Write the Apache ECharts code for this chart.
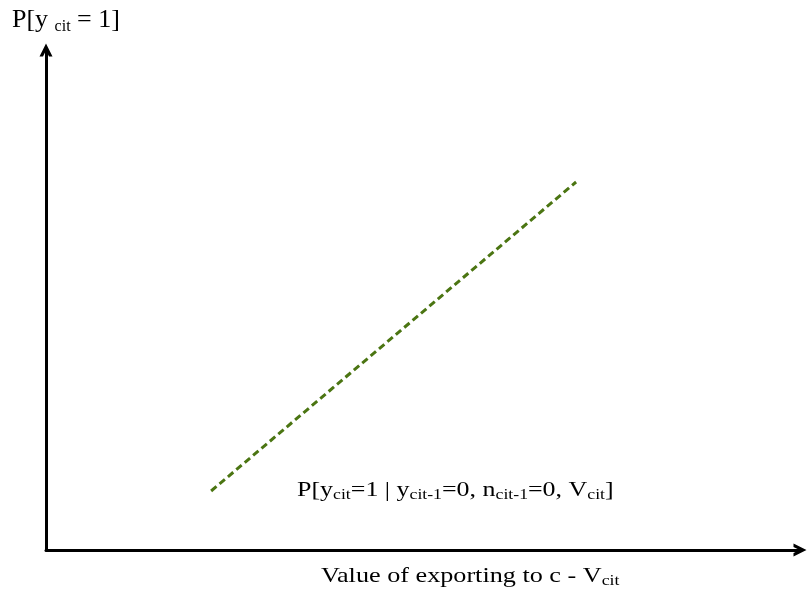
<!DOCTYPE html>
<html>
<head>
<meta charset="utf-8">
<script src="https://cdn.jsdelivr.net/npm/echarts@6/dist/echarts.min.js"></script>
<style>html,body{margin:0;padding:0;background:#fff}#c{width:807px;height:590px}</style>
</head>
<body>
<div id="c"></div>
<script>
// Data (abstract units on a 0–100 scale)
const lineX = [21.9, 70.3];
const lineY = [11.8, 73.6];
const yAxisTitle = ['P[y ', 'cit', ' = 1]'];
const xAxisTitle = ['Value of exporting to c - V', 'cit'];
const curveLabel = 'P[y{s|cit}=1 | y{s|cit-1}=0, n{s|cit-1}=0, V{s|cit}]';

const FONT = "'Liberation Serif','Times New Roman',serif";
const chevron = 'path://M0,10 L5,0 L10,10 L7.3,10 L5,5.3 L2.7,10 Z';

const chart = echarts.init(document.getElementById('c'), null, {renderer: 'canvas'});
chart.setOption({
  animation: false,
  backgroundColor: '#fff',
  grid: {left: 46, right: 7, top: 50, bottom: 40},
  xAxis: {
    type: 'value', min: 0, max: 100,
    axisLine: {show: true, lineStyle: {color: '#000', width: 3}, symbol: ['none', chevron], symbolSize: [16, 13]},
    axisTick: {show: false}, axisLabel: {show: false}, splitLine: {show: false}
  },
  yAxis: {
    type: 'value', min: 0, max: 100,
    axisLine: {show: true, lineStyle: {color: '#000', width: 3}, symbol: ['none', chevron], symbolSize: [16, 13]},
    axisTick: {show: false}, axisLabel: {show: false}, splitLine: {show: false}
  },
  series: [{
    type: 'line',
    data: lineX.map((x, i) => [x, lineY[i]]),
    symbol: 'none',
    lineStyle: {color: '#4b7512', width: 3, type: [7, 4]}
  }],
  graphic: [
    {
      type: 'text', x: 12, y: 6,
      style: {
        text: yAxisTitle[0] + '{s|' + yAxisTitle[1] + '}' + yAxisTitle[2],
        font: '26px ' + FONT, fill: '#000',
        rich: {s: {fontSize: 16, fontFamily: FONT, padding: [13, 0, 0, 0]}}
      }
    },
    {
      type: 'text', x: 297, y: 477, scaleX: 1.18,
      style: {
        text: curveLabel,
        font: '22px ' + FONT, fill: '#000',
        rich: {s: {fontSize: 15, fontFamily: FONT, padding: [11, 0, 0, 0]}}
      }
    },
    {
      type: 'text', x: 321, y: 563, scaleX: 1.19,
      style: {
        text: xAxisTitle[0] + '{s|' + xAxisTitle[1] + '}',
        font: '22px ' + FONT, fill: '#000',
        rich: {s: {fontSize: 15, fontFamily: FONT, padding: [11, 0, 0, 0]}}
      }
    }
  ]
});
</script>
</body>
</html>
